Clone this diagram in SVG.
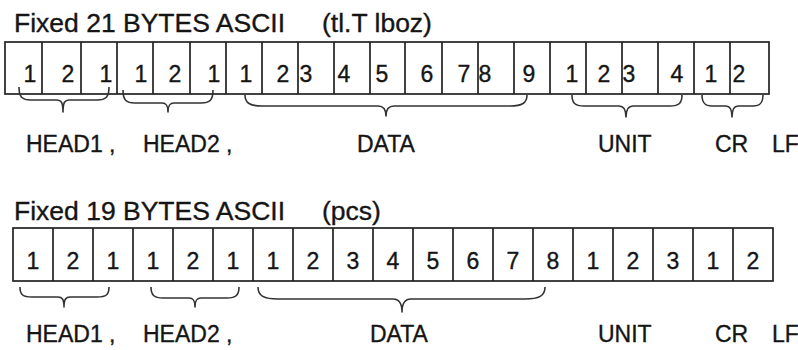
<svg xmlns="http://www.w3.org/2000/svg" width="798" height="350" viewBox="0 0 798 350">
<style>
.t{font-family:"Liberation Sans",Arial,sans-serif;fill:#151515;stroke:#151515;stroke-width:0.35}
.title{font-size:26.5px}
.d{font-size:23px;text-anchor:middle}
.l{font-size:23px}
.box{fill:#fff;stroke:#222;stroke-width:1.7}
.div{stroke:#222;stroke-width:1.7}
.br{fill:none;stroke:#333;stroke-width:1.6;stroke-linejoin:round}
</style>
<rect width="798" height="350" fill="#fff"/>
<g id="row1">
<text class="t title" x="14" y="32">Fixed 21 BYTES ASCII</text>
<text class="t title" x="322" y="32">(tl.T lboz)</text>
<g id="row1-cells">
<rect class="box" x="5" y="42" width="764" height="52"/>
<path class="div" d="M42,42V94M81,42V94M117,42V94M153,42V94M190,42V94M226,42V94M262,42V94M298,42V94M334,42V94M370,42V94M405,42V94M442,42V94M478,42V94M514,42V94M550,42V94M586,42V94M622,42V94M658,42V94M694,42V94M730,42V94"/>
</g>
<g id="row1-digits" class="t d">
<text x="30" y="82">1</text><text x="68" y="82">2</text><text x="106" y="82">1</text>
<text x="141" y="82">1</text><text x="175" y="82">2</text><text x="214" y="82">1</text>
<text x="246" y="82">1</text><text x="283" y="82">2</text><text x="306" y="82">3</text><text x="344" y="82">4</text><text x="382" y="82">5</text><text x="427" y="82">6</text><text x="464" y="82">7</text><text x="485" y="82">8</text><text x="529" y="82">9</text>
<text x="572" y="82">1</text><text x="604" y="82">2</text><text x="629" y="82">3</text><text x="677" y="82">4</text>
<text x="711" y="82">1</text><text x="739" y="82">2</text>
</g>
<g id="row1-labels" class="t l">
<text x="26" y="152">HEAD1 ,</text>
<text x="143" y="152">HEAD2 ,</text>
<text x="357" y="152">DATA</text>
<text x="598" y="152">UNIT</text>
<text x="715" y="152">CR</text>
<text x="772" y="152">LF</text>
</g>
</g>
<g id="row2">
<text class="t title" x="14" y="220">Fixed 19 BYTES ASCII</text>
<text class="t title" x="322" y="220">(pcs)</text>
<g id="row2-cells">
<rect class="box" x="13" y="228" width="760" height="53"/>
<path class="div" d="M53,228V281M93,228V281M133,228V281M173,228V281M213,228V281M253,228V281M293,228V281M333,228V281M373,228V281M413,228V281M453,228V281M493,228V281M533,228V281M573,228V281M613,228V281M653,228V281M693,228V281M733,228V281"/>
</g>
<g id="row2-digits" class="t d">
<text x="33" y="269">1</text><text x="73" y="269">2</text><text x="113" y="269">1</text>
<text x="153" y="269">1</text><text x="193" y="269">2</text><text x="233" y="269">1</text>
<text x="273" y="269">1</text><text x="313" y="269">2</text><text x="353" y="269">3</text><text x="393" y="269">4</text><text x="433" y="269">5</text><text x="473" y="269">6</text><text x="513" y="269">7</text><text x="553" y="269">8</text>
<text x="593" y="269">1</text><text x="633" y="269">2</text><text x="673" y="269">3</text>
<text x="713" y="269">1</text><text x="753" y="269">2</text>
</g>
<g id="row2-labels" class="t l">
<text x="26" y="342">HEAD1 ,</text>
<text x="143" y="342">HEAD2 ,</text>
<text x="370" y="342">DATA</text>
<text x="598" y="342">UNIT</text>
<text x="715" y="342">CR</text>
<text x="772" y="342">LF</text>
</g>
</g>
<g id="connectors">
<path class="br" d="M19,87 C19,97 22,100 31,100 L57,100 C61,100 63,102 63,112 C63,102 65,100 69,100 L97,100 C106,100 109,97 109,87"/>
<path class="br" d="M123,90 C123,100 126,103 135,103 L162,103 C166,103 168,105 168,112 C168,105 170,103 174,103 L201,103 C210,103 213,100 213,90"/>
<path class="br" d="M245,95 C245,103 250,106 262,106 L378,106 C383,106 386,109 386,116 C386,109 389,106 394,106 L510,106 C522,106 527,103 527,95"/>
<path class="br" d="M572,95 C572,103 575,106 584,106 L619,106 C623,106 626,109 626,117 C626,109 629,106 633,106 L670,106 C679,106 682,103 682,95"/>
<path class="br" d="M702,95 C702,103 705,106 712,106 L726,106 C730,106 732,109 732,117 C732,109 734,106 738,106 L753,106 C760,106 763,103 763,95"/>
<path class="br" d="M20,287 C20,295 23,297 32,297 L58,297 C62,297 64,299 64,307 C64,299 66,297 70,297 L97,297 C106,297 109,295 109,287"/>
<path class="br" d="M151,287 C151,295 154,298 163,298 L189,298 C193,298 195,300 195,307 C195,300 197,298 201,298 L227,298 C236,298 239,295 239,287"/>
<path class="br" d="M258,287 C258,296 264,299 278,299 L393,299 C399,299 402,303 402,312 C402,303 405,299 411,299 L525,299 C539,299 545,296 545,287"/>
</g>
</svg>
